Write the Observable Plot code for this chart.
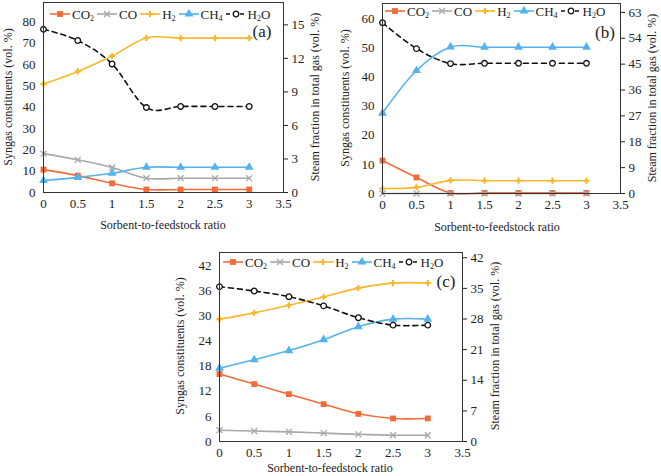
<!DOCTYPE html>
<html><head><meta charset="utf-8">
<script src="https://cdn.jsdelivr.net/npm/d3@7"></script>
<script src="https://cdn.jsdelivr.net/npm/@observablehq/plot@0.6"></script>
<style>
body{margin:0;background:#fff;}
#root{position:relative;width:661px;height:476px;font-family:"Liberation Serif","Times New Roman",serif;color:#222;overflow:hidden;}
.panel{position:absolute;}
.t{position:absolute;white-space:nowrap;font-size:12px;transform:translate(-50%,-50%);}
.rot{transform:translate(-50%,-50%) rotate(-90deg);}
.tag{position:absolute;font-size:17px;transform:translate(-50%,-50%);}
.legend{position:absolute;display:flex;align-items:center;font-size:13px;white-space:nowrap;line-height:13px;}
.legend .it{display:flex;align-items:center;margin-right:3px;}
.legend svg{display:block;margin-right:2px;}
sub{font-size:8px;vertical-align:-2px;line-height:0;}
</style></head>
<body><div id="root"></div>
<script>
// ---- data ----
const ratio = [0, 0.5, 1, 1.5, 2, 2.5, 3];
const xTicks = [0, 0.5, 1, 1.5, 2, 2.5, 3, 3.5];

// panel (a)
const aCO2 = [10.7, 7.9, 4.3, 1.4, 1.4, 1.4, 1.4];
const aCO  = [18.2, 15.3, 11.7, 6.7, 6.7, 6.7, 6.7];
const aH2  = [50.8, 56.7, 63.9, 72.4, 72.3, 72.3, 72.3];
const aCH4 = [5.6, 7.1, 9.0, 11.8, 11.8, 11.8, 11.8];
const aH2O = [14.6, 13.6, 11.5, 7.6, 7.7, 7.7, 7.7];
const aLeftTicks = [0, 10, 20, 30, 40, 50, 60, 70, 80];
const aRightTicks = [0, 3, 6, 9, 12, 15];

// panel (b)
const bCO2 = [11.3, 5.5, 0.2, 0.2, 0.2, 0.2, 0.2];
const bCO  = [0, 0, 0, 0, 0, 0, 0];
const bH2  = [1.7, 2.1, 4.5, 4.4, 4.4, 4.4, 4.4];
const bCH4 = [27.6, 42.2, 50.3, 50.2, 50.2, 50.2, 50.2];
const bH2O = [59.4, 50.4, 45.2, 45.3, 45.3, 45.3, 45.3];
const bLeftTicks = [0, 10, 20, 30, 40, 50, 60];
const bRightTicks = [0, 9, 18, 27, 36, 45, 54, 63];

// panel (c)
const cCO2 = [16.1, 13.7, 11.3, 8.9, 6.6, 5.5, 5.5];
const cCO  = [2.7, 2.5, 2.3, 2.0, 1.7, 1.5, 1.5];
const cH2  = [29.2, 30.7, 32.5, 34.5, 36.6, 37.8, 37.8];
const cCH4 = [17.5, 19.5, 21.7, 24.3, 27.4, 29.2, 29.2];
const cH2O = [35.4, 34.4, 33.1, 31.0, 28.3, 26.6, 26.6];
const cLeftTicks = [0, 6, 12, 18, 24, 30, 36, 42];
const cRightTicks = [0, 7, 14, 21, 28, 35, 42];

const seriesNames = ["CO2", "CO", "H2", "CH4", "H2O"];
const seriesLabels = ["CO<sub>2</sub>", "CO", "H<sub>2</sub>", "CH<sub>4</sub>", "H<sub>2</sub>O"];
const xTitle = "Sorbent-to-feedstock ratio";
const leftTitle = "Syngas constituents (vol. %)";
const rightTitle = "Steam fraction in total gas (vol. %)";

// ---- styles ----
const styles = {
  CO2: {color: "#F26B3A", symbol: "square", filled: true, r: 3.3},
  CO:  {color: "#A8A8A8", symbol: "times", filled: false, r: 2.8},
  H2:  {color: "#F9B72B", symbol: "cross", filled: true, r: 2.6},
  CH4: {color: "#55B2EC", symbol: "triangle", filled: true, r: 3.3},
  H2O: {color: "#111111", symbol: "circle", filled: false, r: 2.8}
};

const root = document.getElementById("root");

function addText(txt, x, y, cls) {
  const d = document.createElement("div");
  d.className = cls;
  d.innerHTML = txt;
  d.style.left = x + "px"; d.style.top = y + "px";
  root.appendChild(d);
}

function legendSwatch(name) {
  const s = styles[name];
  const svg = d3.create("svg").attr("width", 20).attr("height", 12);
  svg.append("line").attr("x1", 0).attr("x2", 20).attr("y1", 6).attr("y2", 6)
    .attr("stroke", s.color).attr("stroke-width", 1.6)
    .attr("stroke-dasharray", name === "H2O" ? "4,3" : null);
  const symMap = {square: d3.symbolSquare, times: d3.symbolTimes, cross: d3.symbolCross, triangle: d3.symbolTriangle, circle: d3.symbolCircle};
  svg.append("path").attr("transform", "translate(10,6)")
    .attr("d", d3.symbol(symMap[s.symbol], Math.PI * s.r * s.r)())
    .attr("fill", s.filled ? s.color : (name === "H2O" ? "#fff" : "none"))
    .attr("stroke", s.color).attr("stroke-width", s.filled ? 0 : 1.3);
  return svg.node();
}

function addLegend(x, y) {
  const lg = document.createElement("div");
  lg.className = "legend";
  lg.style.left = x + "px"; lg.style.top = (y - 6.5) + "px";
  seriesNames.forEach((n, i) => {
    const it = document.createElement("div");
    it.className = "it";
    it.appendChild(legendSwatch(n));
    const sp = document.createElement("span");
    sp.innerHTML = seriesLabels[i];
    it.appendChild(sp);
    lg.appendChild(it);
  });
  root.appendChild(lg);
}

function panel(cfg) {
  const k = cfg.leftMax / cfg.rightMax;
  const arrays = {CO2: cfg.CO2, CO: cfg.CO, H2: cfg.H2, CH4: cfg.CH4, H2O: cfg.H2O};
  const marks = [];
  seriesNames.forEach(n => {
    const s = styles[n];
    const f = n === "H2O" ? k : 1;
    const data = ratio.map((r, i) => ({r, v: arrays[n][i] * f}));
    marks.push(Plot.line(data, {x: "r", y: "v", curve: "cardinal", stroke: s.color, strokeWidth: 1.6,
      strokeDasharray: n === "H2O" ? "5,4" : null}));
  });
  seriesNames.forEach(n => {
    const s = styles[n];
    const f = n === "H2O" ? k : 1;
    const data = ratio.map((r, i) => ({r, v: arrays[n][i] * f}));
    marks.push(Plot.dot(data, {x: "r", y: "v", symbol: () => s.symbol, r: s.r,
      fill: s.filled ? s.color : (n === "H2O" ? "#fff" : "none"),
      stroke: s.filled ? "none" : s.color, strokeWidth: 1.3}));
  });
  marks.push(Plot.frame({stroke: "#333", strokeWidth: 1}));
  marks.push(Plot.axisY(cfg.leftTicks, {anchor: "left", tickSize: 0, tickPadding: 8, label: null, tickFormat: d => String(d)}));
  marks.push(Plot.axisY(cfg.rightTicks.map(t => t * k), {anchor: "right", tickSize: 4, tickPadding: 4, label: null,
    tickFormat: d => String(Math.round(d / k))}));
  marks.push(Plot.axisX(xTicks, {tickSize: 0, tickPadding: 6, label: null, tickFormat: d => String(d)}));

  const chart = Plot.plot({
    width: cfg.w, height: cfg.h,
    marginLeft: cfg.ml, marginRight: cfg.mr, marginTop: cfg.mt, marginBottom: cfg.mb,
    x: {domain: [0, 3.5], label: null},
    y: {domain: [0, cfg.leftMax], label: null},
    symbol: {type: "identity"},
    style: {fontFamily: "'Liberation Serif', 'Times New Roman', serif", fontSize: "13px", color: "#222", background: "transparent", overflow: "visible"},
    marks
  });
  const wrap = document.createElement("div");
  wrap.className = "panel";
  wrap.style.left = cfg.left + "px"; wrap.style.top = cfg.top + "px";
  wrap.appendChild(chart);
  root.appendChild(wrap);

  addText(leftTitle, cfg.ltX, cfg.tY, "t rot");
  addText(rightTitle, cfg.rtX, cfg.tY, "t rot");
  addText(xTitle, cfg.xtX, cfg.xtY, "t");
  addText(cfg.tag, cfg.tagX, cfg.tagY, "tag");
  addLegend(cfg.lgX, cfg.lgY);
}

panel({CO2: aCO2, CO: aCO, H2: aH2, CH4: aCH4, H2O: aH2O, leftTicks: aLeftTicks, rightTicks: aRightTicks,
  leftMax: 89, rightMax: 17.0, left: 0, top: 0, w: 330, h: 240, ml: 43, mr: 47, mt: 2, mb: 48,
  ltX: 8, rtX: 315, tY: 97, xtX: 163, xtY: 225, tag: "(a)", tagX: 262, tagY: 32, lgX: 50, lgY: 14});

panel({CO2: bCO2, CO: bCO, H2: bH2, CH4: bCH4, H2O: bH2O, leftTicks: bLeftTicks, rightTicks: bRightTicks,
  leftMax: 65.2, rightMax: 66.1, left: 330, top: 0, w: 331, h: 240, ml: 52, mr: 41, mt: 3, mb: 47,
  ltX: 345, rtX: 652, tY: 98, xtX: 497, xtY: 227, tag: "(b)", tagX: 605, tagY: 33, lgX: 385, lgY: 11});

panel({CO2: cCO2, CO: cCO, H2: cH2, CH4: cCH4, H2O: cH2O, leftTicks: cLeftTicks, rightTicks: cRightTicks,
  leftMax: 45.1, rightMax: 43.2, left: 170, top: 240, w: 330, h: 236, ml: 49, mr: 38, mt: 12, mb: 35,
  ltX: 180, rtX: 495, tY: 346, xtX: 330, xtY: 468, tag: "(c)", tagX: 446, tagY: 282, lgX: 223, lgY: 262});
</script>
</body></html>
